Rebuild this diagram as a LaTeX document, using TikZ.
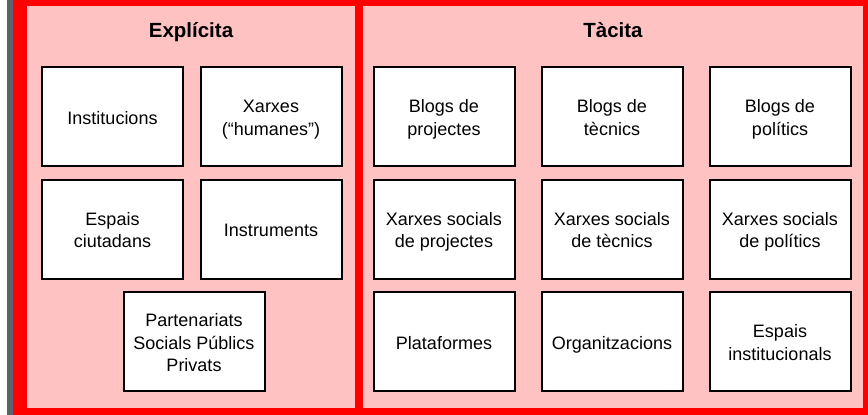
\documentclass[tikz,border=0pt]{standalone}
\usepackage{fontspec}
\setmainfont{Liberation Sans}
\definecolor{panelred}{RGB}{255,0,0}
\definecolor{panelpink}{RGB}{255,194,194}
\definecolor{stripgray}{RGB}{90,98,108}
\newcommand\lnstrut{\rule[-3.75pt]{0pt}{22.5pt}}
\tikzset{
  itembox/.style={draw=black, line width=2pt, fill=white, minimum width=141pt, minimum height=99pt, inner sep=0pt, align=center, font=\fontsize{18}{22.5}\selectfont},
  paneltitle/.style={font=\fontsize{20.5}{24}\selectfont\bfseries, inner sep=0pt, anchor=base}
}
\begin{document}
\begin{tikzpicture}[x=1pt,y=-1pt]
\useasboundingbox (0,0) rectangle (868,415);
\fill[white] (0,0) rectangle (868,415);
\fill[stripgray] (7,0) rectangle (13,415);
\fill[panelred] (13,0) rectangle (868,415);
\fill[panelpink] (27,6) rectangle (355,408);
\fill[panelpink] (363,6) rectangle (863,408);

\node[paneltitle] (t1) at (191,37) {Explícita};
\node[paneltitle] (t2) at (613,37) {Tàcita};

\node[itembox] (a1) at (112.5,116.5) {\lnstrut Institucions};
\node[itembox] (a2) at (271,116.5) {\lnstrut Xarxes\\\lnstrut(“humanes”)};
\node[itembox] (a3) at (112.5,229) {\lnstrut Espais\\\lnstrut ciutadans};
\node[itembox] (a4) at (271,229) {\lnstrut Instruments};
\node[itembox] (a5) at (194,341.5) {\lnstrut Partenariats\\\lnstrut Socials Públics\\\lnstrut Privats};

\node[itembox] (b1) at (444,116.5) {\lnstrut Blogs de\\\lnstrut projectes};
\node[itembox] (b2) at (612,116.5) {\lnstrut Blogs de\\\lnstrut tècnics};
\node[itembox] (b3) at (780,116.5) {\lnstrut Blogs de\\\lnstrut polítics};
\node[itembox] (b4) at (444,229) {\lnstrut Xarxes socials\\\lnstrut de projectes};
\node[itembox] (b5) at (612,229) {\lnstrut Xarxes socials\\\lnstrut de tècnics};
\node[itembox] (b6) at (780,229) {\lnstrut Xarxes socials\\\lnstrut de polítics};
\node[itembox] (b7) at (444,341.5) {\lnstrut Plataformes};
\node[itembox] (b8) at (612,341.5) {\lnstrut Organitzacions};
\node[itembox] (b9) at (780,341.5) {\lnstrut Espais\\\lnstrut institucionals};
\end{tikzpicture}
\end{document}
